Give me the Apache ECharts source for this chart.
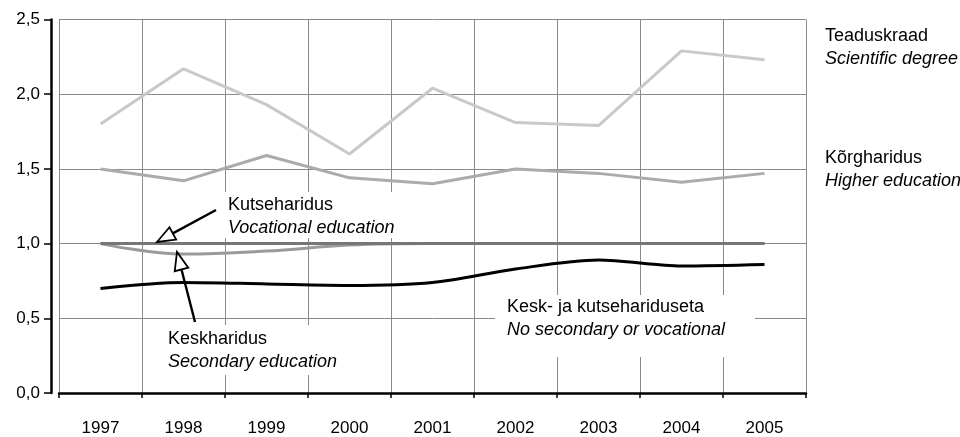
<!DOCTYPE html>
<html>
<head>
<meta charset="utf-8">
<script src="https://cdn.jsdelivr.net/npm/echarts@6/dist/echarts.min.js"></script>
<style>
  html, body { margin: 0; padding: 0; background: #fff; }
  #chart { width: 960px; height: 437px; }
</style>
</head>
<body>
<div id="chart"></div>
<script>
const years = ["1997", "1998", "1999", "2000", "2001", "2002", "2003", "2004", "2005"];
const yTicks = [0, 0.5, 1, 1.5, 2, 2.5];
// Teaduskraad / Scientific degree
const scientific = [1.80, 2.17, 1.93, 1.60, 2.04, 1.81, 1.79, 2.29, 2.23];
// Kõrgharidus / Higher education
const higher = [1.50, 1.42, 1.59, 1.44, 1.40, 1.50, 1.47, 1.41, 1.47];
// Kutseharidus / Vocational education
const vocational = [1.00, 1.00, 1.00, 1.00, 1.00, 1.00, 1.00, 1.00, 1.00];
// Keskharidus / Secondary education
const secondary = [1.00, 0.93, 0.95, 0.99, 1.00, 1.00, 1.00, 1.00, 1.00];
// Kesk- ja kutsehariduseta / No secondary or vocational
const noSecondary = [0.70, 0.74, 0.73, 0.72, 0.74, 0.83, 0.89, 0.85, 0.86];

const FONT = "Liberation Sans";
const chart = echarts.init(document.getElementById("chart"), null, { renderer: "canvas" });

// hollow arrow: tip and tail in pixels
function arrow(tip, tail) {
  const dx = tail[0] - tip[0], dy = tail[1] - tip[1];
  const len = Math.sqrt(dx * dx + dy * dy);
  const ux = dx / len, uy = dy / len;
  const hl = 18, hw = 7;
  const bx = tip[0] + ux * hl, by = tip[1] + uy * hl;
  const px = -uy * hw, py = ux * hw;
  return [
    { type: "line", z: 110, shape: { x1: bx, y1: by, x2: tail[0], y2: tail[1] }, style: { stroke: "#000", lineWidth: 2.4 } },
    { type: "polygon", z: 111, shape: { points: [tip, [bx + px, by + py], [bx - px, by - py]] }, style: { fill: "#fff", stroke: "#000", lineWidth: 1.8 } }
  ];
}

function label(x, y, l1, l2, box) {
  const els = [];
  if (box) {
    els.push({ type: "rect", z: 100, shape: { x: box[0], y: box[1], width: box[2], height: box[3] }, style: { fill: "#fff" } });
  }
  els.push({ type: "text", z: 105, x: x, y: y, style: { text: l1, font: "18px '" + FONT + "'", fill: "#000", textVerticalAlign: "middle", verticalAlign: "middle" } });
  els.push({ type: "text", z: 105, x: x, y: y + 23, style: { text: l2, font: "italic 18px '" + FONT + "'", fill: "#000", textVerticalAlign: "middle", verticalAlign: "middle" } });
  return els;
}

const lineSeries = (name, data, color, smooth, z) => ({
  name: name,
  type: "line",
  data: data,
  smooth: smooth,
  symbol: "none",
  z: z,
  lineStyle: { color: color, width: 3 },
  emphasis: { disabled: true }
});

const option = {
  animation: false,
  textStyle: { fontFamily: FONT },
  grid: { left: 59, right: 154, top: 19.5, bottom: 44, containLabel: false },
  xAxis: {
    type: "category",
    data: years,
    boundaryGap: true,
    offset: 10,
    axisLine: { show: true, lineStyle: { color: "#000", width: 2.5 } },
    axisTick: { show: true, length: 5, lineStyle: { color: "#000", width: 1.5 } },
    axisLabel: { color: "#000", fontSize: 17, margin: 17, fontFamily: FONT },
    splitLine: { show: true, lineStyle: { color: "#8a8a8a", width: 1 } }
  },
  yAxis: {
    type: "value",
    min: yTicks[0],
    max: yTicks[yTicks.length - 1],
    interval: 0.5,
    offset: 8,
    axisLine: { show: true, lineStyle: { color: "#000", width: 2.5 } },
    axisTick: { show: true, length: 7, lineStyle: { color: "#000", width: 1.5 } },
    axisLabel: { color: "#000", fontSize: 17, margin: 11, fontFamily: FONT,
      formatter: v => v.toFixed(1).replace(".", ",") },
    splitLine: { show: true, lineStyle: { color: "#8a8a8a", width: 1 } }
  },
  series: [
    lineSeries("Teaduskraad", scientific, "#c9c9c9", false, 2),
    lineSeries("Kõrgharidus", higher, "#ababab", false, 3),
    lineSeries("Keskharidus", secondary, "#9a9a9a", 0.4, 4),
    lineSeries("Kutseharidus", vocational, "#767676", false, 5),
    lineSeries("Kesk- ja kutsehariduseta", noSecondary, "#000", 0.3, 6)
  ],
  graphic: [].concat(
    label(825, 36, "Teaduskraad", "Scientific degree"),
    label(825, 158, "Kõrgharidus", "Higher education"),
    label(228, 205, "Kutseharidus", "Vocational education", [222, 192, 178, 46]),
    label(168, 339, "Keskharidus", "Secondary education", [162, 325, 172, 50]),
    label(507, 307, "Kesk- ja kutsehariduseta", "No secondary or vocational", [495, 295, 260, 62]),
    arrow([157, 242], [216, 210]),
    arrow([177, 252], [195, 322])
  )
};

chart.setOption(option);
</script>
</body>
</html>
